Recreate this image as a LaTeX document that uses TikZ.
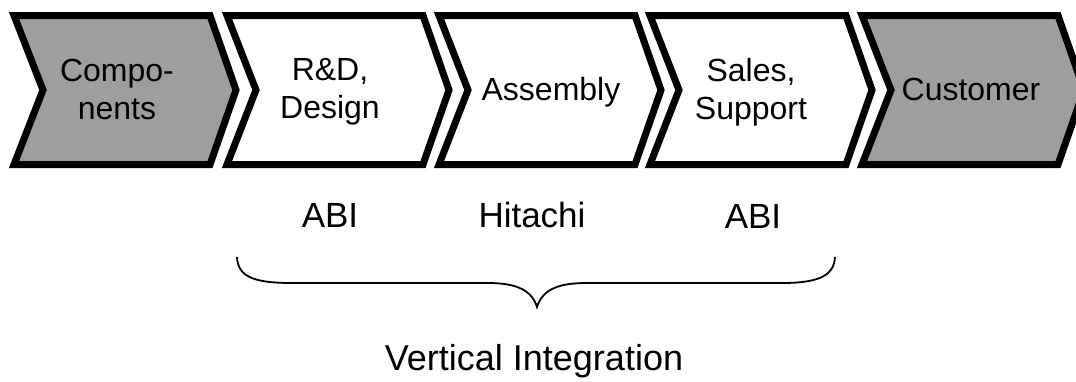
\documentclass[tikz,border=0pt]{standalone}
\usepackage{fontspec}
\setmainfont{Liberation Sans}
\newcommand\drawchevron[2]{%
  \draw[#1] (#2+4,15.5) -- (#2+200,15.5) -- (#2+226,90) -- (#2+200,164.5)
    -- (#2+4,164.5) -- (#2+33,90) -- cycle;}
\begin{document}
\begin{tikzpicture}[x=1pt,y=-1pt,
  chev/.style={line width=7pt, line join=miter, draw=black},
  greychev/.style={chev, fill=black!38},
  whitechev/.style={chev, fill=white},
  lbl/.style={font=\fontsize{32}{38}\selectfont, align=center, inner sep=0pt},
  twoline/.style={lbl, anchor=north},
  oneline/.style={lbl, anchor=base},
  sublbl/.style={font=\fontsize{35}{42}\selectfont, inner sep=0pt, anchor=base},
  bracestyle/.style={line width=1.8pt, draw=black}]
\useasboundingbox (0,0) rectangle (1076,381);
\fill[white] (0,0) rectangle (1076,381);
% chevrons
\drawchevron{greychev}{10}
\drawchevron{whitechev}{223}
\drawchevron{whitechev}{435}
\drawchevron{whitechev}{646}
\drawchevron{greychev}{858}
% chevron texts
\node[twoline] (comp) at (117,58.5) {Compo-\\nents};
\node[twoline] (rd)   at (330,58.5) {R\&D,\\Design};
\node[oneline] (asm)  at (551,100) {Assembly};
\node[twoline] (sales) at (751,58.5) {Sales,\\Support};
\node[oneline] (cust) at (971,100) {Customer};
% labels
\node[sublbl] (abi1) at (330,227) {ABI};
\node[sublbl] (hit)  at (532,227) {Hitachi};
\node[sublbl] (abi2) at (753,228) {ABI};
% brace
\coordinate (bl) at (237,257);
\coordinate (bt) at (537,307);
\coordinate (br) at (835,257);
\draw[bracestyle] (bl) .. controls (238,276) and (252,283) .. (292,283)
  -- (488,283) .. controls (518,283) and (532,291) .. (bt)
  .. controls (542,291) and (556,283) .. (586,283)
  -- (782,283) .. controls (822,283) and (834,274) .. (br);
\node[font=\fontsize{36}{43}\selectfont, inner sep=0pt, anchor=base] (vi) at (534,370) {Vertical Integration};
\end{tikzpicture}
\end{document}
